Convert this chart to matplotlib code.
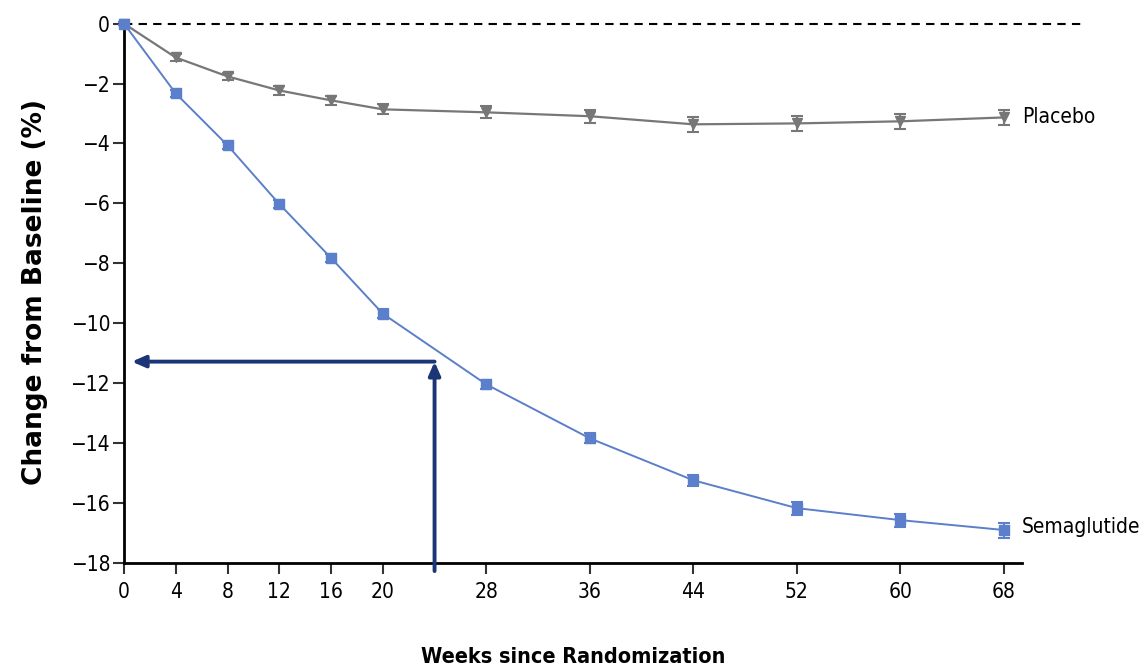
import matplotlib
matplotlib.use("Agg")
import matplotlib.pyplot as plt

# data
weeks = [0, 4, 8, 12, 16, 20, 28, 36, 44, 52, 60, 68]
sema = [0, -2.33, -4.06, -6.02, -7.82, -9.68, -12.04, -13.84, -15.24, -16.17, -16.57, -16.90]
sema_err = [0.05, 0.12, 0.12, 0.14, 0.14, 0.14, 0.14, 0.17, 0.19, 0.22, 0.22, 0.25]
placebo = [0, -1.13, -1.76, -2.23, -2.56, -2.86, -2.96, -3.09, -3.36, -3.33, -3.26, -3.13]
placebo_err = [0.05, 0.12, 0.12, 0.14, 0.15, 0.17, 0.2, 0.22, 0.25, 0.26, 0.26, 0.26]
xticks = weeks
yticks = [0, -2, -4, -6, -8, -10, -12, -14, -16, -18]
arrow_week = 24
arrow_level = -11.28

narrow = dict(family="DejaVu Sans", stretch="condensed")
blue = "#5b7fca"
grey = "#777777"
navy = "#1b3577"

fig = plt.figure(figsize=(11.45, 6.71), dpi=100)
ax = fig.add_axes([0.1083, 0.161, 0.7843, 0.806])

ax.errorbar(weeks, placebo, yerr=placebo_err, color=grey, marker="v", ms=7,
            lw=1.6, capsize=4, elinewidth=1.5, capthick=1.5, clip_on=False, zorder=3)
ax.errorbar(weeks, sema, yerr=sema_err, color=blue, marker="s", ms=7,
            lw=1.4, capsize=4, elinewidth=1.5, capthick=1.5, clip_on=False, zorder=4)

# zero reference line
ax.plot([0, 74], [0, 0], ls=(0, (4, 3)), color="black", lw=1.5, clip_on=False, zorder=2)

# arrows
ax.annotate("", xy=(0.6, arrow_level), xytext=(arrow_week, arrow_level),
            arrowprops=dict(arrowstyle="-|>,head_length=0.8,head_width=0.35",
                            color=navy, lw=2.8, shrinkA=0, shrinkB=0))
ax.annotate("", xy=(arrow_week, arrow_level), xytext=(arrow_week, -18.27),
            arrowprops=dict(arrowstyle="-|>,head_length=0.8,head_width=0.35",
                            color=navy, lw=2.8, shrinkA=0, shrinkB=0),
            annotation_clip=False)

ax.text(69.4, placebo[-1], "Placebo", fontsize=15, va="center", ha="left", **narrow)
ax.text(69.4, sema[-1] + 0.1, "Semaglutide", fontsize=15, va="center", ha="left", **narrow)

ax.set_xlim(0, 69.4)
ax.set_ylim(-18, 0.05)
ax.set_xticks(xticks)
ax.set_xticklabels([str(w) for w in xticks], fontsize=15, **narrow)
ax.set_yticks(yticks)
ax.set_yticklabels(["0"] + ["\u2212" + str(-v) for v in yticks[1:]], fontsize=15, **narrow)
ax.tick_params(axis="both", direction="out", length=8, width=1.5, color="#333333")
ax.tick_params(axis="x", pad=6)
ax.tick_params(axis="y", pad=2)

for s in ["top", "right"]:
    ax.spines[s].set_visible(False)
for s in ["left", "bottom"]:
    ax.spines[s].set_linewidth(2)

fig.text(35 / 1145, 1 - 292 / 671, "Change from Baseline (%)", rotation=90,
         fontsize=19, fontweight="bold", ha="center", va="center")
fig.text(573 / 1145, 1 - 657 / 671, "Weeks since Randomization",
         fontsize=15.5, fontweight="bold", ha="center", va="center", **narrow)

fig.savefig("out.png", dpi=100)
